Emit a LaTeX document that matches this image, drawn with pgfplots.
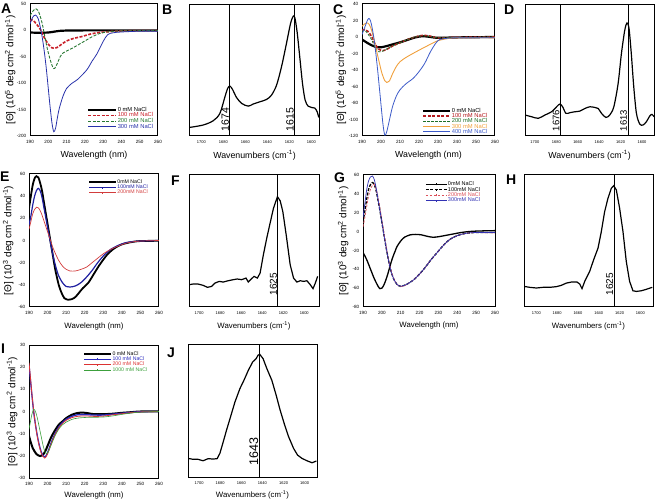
\documentclass[border=0pt]{standalone}
\usepackage{pgfplots}
\pgfplotsset{compat=1.18}
\usepackage{fontspec}
\setmainfont{Liberation Sans}
\definecolor{aRed}{RGB}{200,30,40}
\definecolor{aGreen}{RGB}{40,120,50}
\definecolor{aBlue}{RGB}{40,50,170}
\definecolor{cRed}{RGB}{180,25,30}
\definecolor{cGreen}{RGB}{30,110,40}
\definecolor{cOrange}{RGB}{240,160,60}
\definecolor{cBlue}{RGB}{60,90,200}
\definecolor{eBlue}{RGB}{30,30,160}
\definecolor{eRed}{RGB}{210,60,60}
\definecolor{gRed}{RGB}{220,80,90}
\definecolor{gBlue}{RGB}{50,50,180}
\definecolor{iBlue}{RGB}{40,40,190}
\definecolor{iRed}{RGB}{220,50,50}
\definecolor{iGreen}{RGB}{60,160,60}
\newcommand{\fs}[1]{\fontsize{#1}{#1}\selectfont}
\pgfplotsset{
  base/.style={scale only axis, axis line style={line width=1pt}, major tick length=0pt,
    /pgf/number format/assume math mode=true, /pgf/number format/1000 sep={},
    xticklabel style={yshift=-1.2pt}, yticklabel style={xshift=-0.3pt}},
  cd/.style={base, xmin=190, xmax=260, xtick={190,200,...,260},
    tick label style={font=\fs{4.6}}, xlabel={Wavelength (nm)}},
  ir/.style={base, x dir=reverse, ymin=0, ymax=1, ytick=\empty, xtick={1600,1620,...,1700},
    tick label style={font=\fs{4}}, xlabel={Wavenumbers (cm\textsuperscript{-1})}},
  leg/.style={legend cell align={left},
    legend image code/.code={\draw[##1] (0pt,0pt) -- (#1,0pt);},
    legend style={draw=none, fill=none, inner sep=0pt, row sep=-0.8pt, nodes={inner sep=0.4pt}}},
  legm/.style={legend cell align={left},
    legend image code/.code={\draw[##1] (0pt,0pt) -- (#1,0pt); \draw[##1,solid,line width=0.4pt] (0.5*#1,-1pt) -- (0.5*#1,1pt);},
    legend style={draw=none, fill=none, inner sep=0pt, row sep=-0.8pt, nodes={inner sep=0.4pt}}},
}
\begin{document}
\begin{tikzpicture}
\path[use as bounding box] (0pt,0pt) rectangle (656pt,-502pt);
% ---------------- A ----------------
\begin{axis}[cd, at={(30pt,-4pt)}, anchor=north west, width=128pt, height=132pt,
  ymin=-200, ymax=50, ytick={-200,-150,...,50},
  xlabel style={font=\fs{8.8}, at={(axis description cs:0.5,-0.145)}, anchor=center},
  ylabel={[Θ] (10\textsuperscript{5} deg cm\textsuperscript{2} dmol\textsuperscript{-1})},
  ylabel style={font=\fs{10}, at={(axis description cs:-0.155,0.5)}, anchor=center},
  leg=28pt, legend style={at={(0.445,0.225)}, anchor=north west, font=\fs{5.8}}]
\addplot[black, line width=2.2pt, smooth] coordinates {(190,-4) (195,-4.5) (200,-4) (203,-2.5) (206,-1) (210,-0.3) (220,0) (260,0)};
\addlegendentry{0 mM NaCl}
\addplot[aRed, line width=1.6pt, dash pattern=on 3pt off 1.5pt, smooth] coordinates {(190,18) (191,20) (192,18) (194,10) (196,0) (198,-15) (200,-26) (202,-33) (203.5,-34) (205,-32) (207,-27) (210,-20) (214,-15) (218,-12) (223,-7) (228,-4) (235,-2) (240,-1) (250,-0.5) (260,-0.5)};
\addlegendentry{\textcolor{aRed}{100 mM NaCl}}
\addplot[aGreen, line width=0.9pt, dash pattern=on 3pt off 1.5pt, smooth] coordinates {(190,28) (191.5,36) (193,41) (194.5,37) (196,22) (197,8) (198,-10) (199.5,-35) (201,-55) (202.5,-70) (203.5,-72) (205,-62) (206.5,-50) (208,-43) (210,-39) (213,-34) (216,-28) (220,-20) (224,-12) (228,-6) (232,-3) (236,-1.5) (240,-1) (250,-0.5) (260,-0.5)};
\addlegendentry{\textcolor{aGreen}{200 mM NaCl}}
\addplot[aBlue, line width=0.8pt, smooth] coordinates {(190,12) (191.5,25) (193,29) (194.5,22) (196,0) (197,-20) (198,-45) (199,-75) (200,-110) (201,-145) (202,-175) (203,-192) (204,-185) (205,-165) (206,-148) (208,-125) (210,-110) (213,-100) (216,-93) (221,-75) (224,-58) (226.5,-45) (230,-21) (232.5,-8) (235.5,-4.5) (240,-3) (250,-1.5) (260,-1.5)};
\addlegendentry{\textcolor{aBlue}{300 mM NaCl}}
\end{axis}
% ---------------- B ----------------
\begin{axis}[ir, at={(190pt,-5pt)}, anchor=north west, width=129pt, height=131pt, xmin=1593, xmax=1710.3,
  xlabel style={font=\fs{8.8}, at={(axis description cs:0.5,-0.145)}, anchor=center}]
\addplot[black, line width=1.2pt, smooth] coordinates {(1710.3,0.066) (1698.2,0.084) (1689.1,0.117) (1683.1,0.173) (1678.5,0.30) (1676.1,0.363) (1674,0.381) (1671.6,0.355) (1668,0.294) (1663.4,0.249) (1657.4,0.228) (1652.8,0.244) (1646.8,0.261) (1640.7,0.279) (1636.2,0.312) (1631.6,0.388) (1627.1,0.528) (1622.6,0.706) (1618.9,0.858) (1616.5,0.914) (1615,0.904) (1612.9,0.794) (1610.5,0.604) (1608,0.401) (1605.6,0.274) (1602.9,0.228) (1599.9,0.218) (1596.8,0.213) (1594.7,0.185) (1593.2,0.142)};
\addplot[black, line width=1pt] coordinates {(1674,0) (1674,1)};
\addplot[black, line width=1pt] coordinates {(1615,0) (1615,1)};
\node[rotate=90, anchor=south west, font=\fs{10.5}, inner sep=0.8pt] at (axis cs:1674,0.03) {1674};
\node[rotate=90, anchor=south west, font=\fs{10.5}, inner sep=0.8pt] at (axis cs:1615,0.03) {1615};
\end{axis}
% ---------------- C ----------------
\begin{axis}[cd, at={(362pt,-4pt)}, anchor=north west, width=133pt, height=132pt,
  ymin=-120, ymax=40, ytick={-120,-100,...,40},
  xlabel style={font=\fs{8.8}, at={(axis description cs:0.5,-0.145)}, anchor=center},
  ylabel={[Θ] (10\textsuperscript{5} deg cm\textsuperscript{2} dmol\textsuperscript{-1})},
  ylabel style={font=\fs{10}, at={(axis description cs:-0.158,0.5)}, anchor=center},
  leg=27pt, legend style={at={(0.451,0.215)}, anchor=north west, font=\fs{5.8}, row sep=-1.3pt}]
\addplot[black, line width=2.2pt, smooth] coordinates {(190,-3) (192,-6) (195,-10) (198,-12.5) (200,-12.5) (203,-11) (206,-9) (210,-6.5) (214,-3.5) (218,-0.5) (222,1) (226,0) (230,-1) (240,-0.5) (260,0)};
\addlegendentry{0 mM NaCl}
\addplot[cRed, line width=1.6pt, dash pattern=on 3pt off 1.5pt, smooth] coordinates {(190,8) (191.5,9) (193,7) (195,1) (197,-9) (199,-15) (201,-16.5) (203,-15) (206,-11) (210,-7) (214,-3) (218,0) (222,2) (226,1) (230,-1) (240,-0.5) (260,0)};
\addlegendentry{\textcolor{cRed}{100 mM NaCl}}
\addplot[cGreen, line width=0.8pt, dash pattern=on 2.5pt off 1.5pt, smooth] coordinates {(190,7) (191.5,8) (193,4) (195,-3) (197,-13) (199,-18) (201,-17) (203,-14.5) (206,-11) (210,-7) (214,-3) (218,0) (222,1.5) (226,0.5) (230,-1) (240,-0.5) (260,0)};
\addlegendentry{\textcolor{cGreen}{200 mM NaCl}}
\addplot[cOrange, line width=0.9pt, smooth] coordinates {(190,13) (191.5,16) (193,17) (194.5,12) (196,0) (197.5,-15) (199,-30) (200.5,-44) (202,-53) (203,-55) (204.5,-53) (206,-45) (208,-36) (210,-30) (213,-25) (216,-21) (220,-16) (225,-10) (230,-4.5) (235,-2) (240,-1) (260,-1)};
\addlegendentry{\textcolor{cOrange}{300 mM NaCl}}
\addplot[cBlue, line width=0.8pt, smooth] coordinates {(190,3) (191.5,12) (193,21) (194,22) (195,15) (196.5,-5) (198,-35) (199.5,-70) (201,-105) (202,-119) (203,-115) (204.5,-100) (206,-85) (208,-72) (210,-64) (213,-57) (217,-50) (220,-42) (223,-32) (226,-18) (229,-7) (231,-3) (235,-1.5) (240,-1) (260,-1)};
\addlegendentry{\textcolor{cBlue}{400 mM NaCl}}
\end{axis}
% ---------------- D ----------------
\begin{axis}[ir, at={(525pt,-5pt)}, anchor=north west, width=129pt, height=131pt, xmin=1588.8, xmax=1709.2,
  xlabel style={font=\fs{8.8}, at={(axis description cs:0.5,-0.145)}, anchor=center}]
\addplot[black, line width=1.2pt, smooth] coordinates {(1709.2,0.16) (1703,0.147) (1696.8,0.135) (1690.6,0.16) (1684.4,0.185) (1679.7,0.223) (1676.6,0.244) (1674.1,0.223) (1671,0.173) (1667.3,0.178) (1662.7,0.185) (1658,0.19) (1653.3,0.21) (1648.7,0.223) (1644,0.218) (1640.9,0.21) (1637.8,0.173) (1633.8,0.142) (1630.1,0.16) (1626.3,0.223) (1622.3,0.40) (1619.2,0.63) (1616.1,0.807) (1614,0.863) (1612.1,0.82) (1610,0.63) (1607.7,0.376) (1605.2,0.173) (1602.1,0.091) (1599,0.084) (1595.9,0.109) (1592.8,0.152) (1590.7,0.165) (1588.8,0.147)};
\addplot[black, line width=1pt] coordinates {(1676,0) (1676,1)};
\addplot[black, line width=1pt] coordinates {(1613,0) (1613,1)};
\node[rotate=90, anchor=south west, font=\fs{9.5}, inner sep=0.8pt] at (axis cs:1676,0.03) {1676};
\node[rotate=90, anchor=south west, font=\fs{9.5}, inner sep=0.8pt] at (axis cs:1613,0.03) {1613};
\end{axis}
% ---------------- E ----------------
\begin{axis}[cd, at={(29pt,-174pt)}, anchor=north west, width=130pt, height=133pt,
  ymin=-60, ymax=60, ytick={-60,-40,...,60},
  xlabel style={font=\fs{7.8}, at={(axis description cs:0.5,-0.143)}, anchor=center},
  ylabel={[Θ] (10\textsuperscript{3} deg cm\textsuperscript{2} dmol\textsuperscript{-1})},
  ylabel style={font=\fs{10}, at={(axis description cs:-0.16,0.5)}, anchor=center},
  legm=27pt, legend style={at={(0.454,0.962)}, anchor=north west, font=\fs{5.2}}]
\addplot[black, line width=1.8pt, smooth] coordinates {(190,29) (191,40) (192,50) (193,56) (194,58) (195,57) (196,52) (197,45) (198,35) (199,25) (200,15) (201,5) (202,-5) (203,-15) (204,-25) (205,-33) (206,-40) (207,-45) (208,-49) (209,-52) (211,-53.5) (213,-53) (215,-51) (217,-47) (219,-43) (222,-38) (225,-30) (228,-22) (232,-13) (236,-7) (240,-3.5) (245,-1.5) (250,-0.5) (260,-0.3)};
\addlegendentry{0mM NaCl}
\addplot[eBlue, line width=1.2pt, smooth] coordinates {(190,14) (191,22) (192,32) (193,40) (194,45) (195,47) (196,45) (197,39) (198,30) (199,21) (200,12) (201,3) (202,-6) (203,-14) (204,-21) (205,-27) (206,-32) (208,-38) (210,-41.5) (212,-42) (215,-41) (218,-38) (221,-33) (224,-27) (227,-20) (230,-14) (234,-8) (238,-4.5) (242,-2) (246,-1) (250,-0.5) (260,0)};
\addlegendentry{\textcolor{eBlue}{100mM NaCl}}
\addplot[eRed, line width=0.7pt, smooth] coordinates {(190,10) (191,17) (192,24) (193,28) (194,30) (195,29.5) (196,27) (197,23) (198,18) (199,13) (200,8) (201,3) (202,-2) (203,-7) (204,-11) (206,-18) (208,-23) (210,-26) (212,-27.5) (215,-27.5) (218,-26) (221,-24) (224,-20) (227,-16) (230,-12) (234,-8) (238,-5) (242,-2.5) (246,-1.2) (250,-0.5) (260,0)};
\addlegendentry{\textcolor{eRed}{200mM NaCl}}
\end{axis}
% ---------------- F ----------------
\begin{axis}[ir, at={(189pt,-175pt)}, anchor=north west, width=130pt, height=132pt, xmin=1586, xmax=1709.6,
  xlabel style={font=\fs{7.8}, at={(axis description cs:0.5,-0.143)}, anchor=center}]
\addplot[black, line width=1.2pt] coordinates {(1709.6,0.169) (1705.7,0.174) (1701,0.174) (1696.2,0.164) (1692,0.149) (1688.2,0.156) (1685,0.181) (1680.9,0.194) (1677.1,0.189) (1672.3,0.199) (1667.5,0.207) (1663.7,0.212) (1659.6,0.207) (1655.4,0.219) (1653.2,0.189) (1651,0.207) (1647.8,0.232) (1644.6,0.219) (1642,0.257) (1638.9,0.395) (1635.7,0.521) (1632.5,0.635) (1629.3,0.748) (1625.5,0.836) (1622.9,0.804) (1620.4,0.723) (1617.2,0.547) (1613.4,0.32) (1610.2,0.219) (1607,0.189) (1603.8,0.199) (1600.6,0.194) (1597.5,0.199) (1594.3,0.169) (1591.7,0.139) (1589.5,0.181) (1587.3,0.232)};
\addplot[black, line width=1pt] coordinates {(1625,0) (1625,1)};
\node[rotate=90, anchor=south west, font=\fs{10}, inner sep=0.8pt] at (axis cs:1625,0.08) {1625};
\end{axis}
% ---------------- G ----------------
\begin{axis}[cd, at={(363pt,-175pt)}, anchor=north west, width=132pt, height=132pt,
  ymin=-80, ymax=60, ytick={-80,-60,...,60},
  xlabel style={font=\fs{7.8}, at={(axis description cs:0.5,-0.143)}, anchor=center},
  ylabel={[Θ] (10\textsuperscript{3} deg cm\textsuperscript{2} dmol\textsuperscript{-1})},
  ylabel style={font=\fs{10}, at={(axis description cs:-0.15,0.5)}, anchor=center},
  legm=21pt, legend style={at={(0.47,0.955)}, anchor=north west, font=\fs{5.5}}]
\addplot[black, line width=1.3pt, smooth] coordinates {(190,-22) (192,-30) (194,-40) (196,-50) (198,-58) (199,-60.5) (200,-60) (201,-57) (202,-52) (203,-46) (204,-39) (205,-32) (206,-26) (207,-21) (208,-16) (210,-10) (212,-6) (215,-3.5) (218,-3) (221,-3.5) (224,-5) (227,-6) (230,-5.5) (234,-4) (238,-2.5) (242,-1) (246,0) (250,0.5) (255,0.8) (260,1)};
\addlegendentry{0mM NaCl}
\addplot[black, line width=1.3pt, dash pattern=on 3pt off 1.5pt, smooth] coordinates {(190,10) (191,22) (192,35) (193,45) (194,50) (195,52) (196,50) (197,43) (198,33) (199,22) (200,10) (201,-2) (202,-14) (203,-25) (204,-35) (205,-43) (206,-49) (207,-53) (208,-56) (209,-57.5) (210,-58) (212,-57) (214,-55) (217,-51) (220,-45) (223,-38) (226,-30) (229,-23) (232,-16) (235,-10) (238,-6) (242,-3) (246,-1.5) (250,-1) (260,-1)};
\addlegendentry{100mM NaCl}
\addplot[gRed, line width=0.7pt, dash pattern=on 2.5pt off 1.5pt, smooth] coordinates {(190,5) (191,15) (192,27) (193,38) (194,45) (195,49) (196,50) (197,45) (198,36) (199,25) (200,12) (201,0) (202,-12) (203,-24) (204,-34) (205,-42) (206,-48) (207,-53) (208,-56) (209,-57.5) (210,-58.5) (212,-57.5) (214,-55) (217,-51) (220,-45) (223,-38) (226,-30) (229,-23) (232,-16) (235,-10) (238,-6) (242,-3) (246,-1.5) (250,-1) (260,-1.5)};
\addlegendentry{\textcolor{gRed}{200mM NaCl}}
\addplot[gBlue, line width=0.7pt, smooth] coordinates {(190,15) (191,30) (192,45) (193,54) (194,58) (195,59) (196,55) (197,46) (198,34) (199,22) (200,10) (201,-2) (202,-14) (203,-25) (204,-35) (205,-43) (206,-49) (207,-53) (208,-56) (209,-57.5) (210,-58) (212,-57) (214,-55) (217,-51) (220,-45) (223,-38) (226,-30) (229,-23) (232,-16) (235,-10) (238,-6) (242,-3) (246,-1.5) (250,-1) (260,-1)};
\addlegendentry{\textcolor{gBlue}{300mM NaCl}}
\end{axis}
% ---------------- H ----------------
\begin{axis}[ir, at={(524pt,-175pt)}, anchor=north west, width=129pt, height=132pt, xmin=1587.8, xmax=1711.9,
  xlabel style={font=\fs{7.8}, at={(axis description cs:0.5,-0.143)}, anchor=center}]
\addplot[black, line width=1.2pt] coordinates {(1711.9,0.156) (1706.4,0.149) (1700,0.144) (1693.6,0.149) (1687.2,0.149) (1680.8,0.154) (1676,0.164) (1671.2,0.181) (1666.3,0.189) (1660.9,0.189) (1658.3,0.174) (1656.1,0.139) (1653.5,0.194) (1648.7,0.27) (1644.9,0.358) (1640.7,0.446) (1637.5,0.572) (1634.3,0.723) (1631.1,0.824) (1627.9,0.899) (1625.6,0.919) (1623.1,0.887) (1619.9,0.748) (1616.7,0.572) (1613.5,0.345) (1610.3,0.194) (1607.1,0.123) (1603.8,0.118) (1599,0.123) (1594.2,0.134) (1588.5,0.149)};
\addplot[black, line width=1pt] coordinates {(1625,0) (1625,1)};
\node[rotate=90, anchor=south west, font=\fs{10}, inner sep=0.8pt] at (axis cs:1625,0.08) {1625};
\end{axis}
% ---------------- I ----------------
\begin{axis}[cd, at={(29pt,-345pt)}, anchor=north west, width=130pt, height=133pt,
  ymin=-30, ymax=30, ytick={-30,-20,...,30},
  xlabel style={font=\fs{7.8}, at={(axis description cs:0.5,-0.135)}, anchor=center},
  ylabel={[Θ] (10\textsuperscript{3} deg cm\textsuperscript{2} dmol\textsuperscript{-1})},
  ylabel style={font=\fs{10}, at={(axis description cs:-0.13,0.5)}, anchor=center},
  legm=27pt, legend style={at={(0.415,0.955)}, anchor=north west, font=\fs{5.2}}]
\addplot[black, line width=2pt, smooth] coordinates {(190,-11) (191,-14) (192,-16.5) (193,-18) (194,-19.2) (195,-19.8) (196,-20.1) (197,-19.8) (198,-19) (199,-17.5) (200,-15.5) (202,-11.5) (204,-8.5) (206,-6) (208,-4.5) (210,-3) (213,-1.5) (216,-0.7) (219,-0.5) (222,-0.8) (225,-1.2) (230,-1.2) (235,-1) (240,-0.6) (245,-0.3) (250,0) (260,0)};
\addlegendentry{0 mM NaCl}
\addplot[iBlue, line width=1.3pt, smooth] coordinates {(190,21) (190.7,15) (191.5,8) (192.5,0) (193.5,-6) (194.5,-11) (195.5,-15) (196.5,-18) (197.5,-20) (198.5,-20.5) (199.5,-19.5) (200.5,-17.5) (202,-14) (204,-10) (206,-7) (208,-5) (210,-3.5) (213,-2.2) (216,-1.5) (220,-1.4) (225,-1.6) (230,-1.6) (235,-1.2) (240,-0.8) (245,-0.4) (250,-0.1) (260,0)};
\addlegendentry{\textcolor{iBlue}{100 mM NaCl}}
\addplot[iRed, line width=0.8pt, smooth] coordinates {(190,22) (190.7,16) (191.5,8.5) (192.5,0.5) (193.5,-6) (194.5,-11.5) (195.5,-15.5) (196.5,-18.5) (197.5,-20.3) (198.5,-21) (199.5,-20) (200.5,-18) (202,-14.5) (204,-10.5) (206,-7.5) (208,-5.5) (210,-4) (213,-2.8) (216,-2.2) (220,-2) (225,-2.2) (230,-2.1) (235,-1.5) (240,-1) (245,-0.5) (250,-0.2) (260,0)};
\addlegendentry{\textcolor{iRed}{200 mM NaCl}}
\addplot[iGreen, line width=0.6pt, smooth] coordinates {(190,-8) (190.7,-5) (191.5,-1.5) (192.5,1) (193.5,0) (194.5,-3) (195.5,-7) (196.5,-11) (197.5,-15) (198.5,-18) (199.5,-19) (200.5,-18) (202,-15) (204,-11) (206,-8) (208,-6) (210,-4.8) (213,-3.6) (216,-3) (220,-2.7) (225,-2.6) (230,-2.5) (235,-2) (240,-1.3) (245,-0.7) (250,-0.3) (260,0)};
\addlegendentry{\textcolor{iGreen}{1000 mM NaCl}}
\end{axis}
% ---------------- J ----------------
\begin{axis}[ir, at={(188pt,-345pt)}, anchor=north west, width=129pt, height=132pt, xmin=1588.3, xmax=1710.5,
  xlabel style={font=\fs{7.8}, at={(axis description cs:0.5,-0.135)}, anchor=center}]
\addplot[black, line width=1.2pt] coordinates {(1710.5,0.141) (1705.7,0.134) (1701,0.134) (1696.2,0.123) (1691.4,0.139) (1686.7,0.136) (1682.9,0.139) (1680.3,0.179) (1677.1,0.267) (1674,0.355) (1670.2,0.456) (1666,0.569) (1661.3,0.67) (1657.5,0.733) (1653.3,0.809) (1649.2,0.872) (1645.9,0.897) (1644.2,0.922) (1642.5,0.929) (1639.4,0.897) (1635.8,0.821) (1631.1,0.733) (1627,0.62) (1623.2,0.506) (1619.4,0.406) (1615.2,0.305) (1610.5,0.217) (1606.7,0.166) (1602.5,0.141) (1597.8,0.123) (1593,0.108) (1588.9,0.121)};
\addplot[black, line width=1pt] coordinates {(1643,0) (1643,1)};
\node[rotate=90, anchor=south west, font=\fs{12.5}, inner sep=0.8pt] at (axis cs:1643,0.08) {1643};
\end{axis}
% ---------------- panel letters ----------------
\foreach \L/\X/\Y in {A/1/-4, B/162/-5, C/333/-5, D/504/-5, E/0/-172, F/171/-176, G/334/-173, H/506/-175, I/1/-344, J/167/-348}
  \node[anchor=north west, inner sep=0pt, font=\bfseries\fs{14}] at (\X pt,\Y pt) {\L};
\end{tikzpicture}
\end{document}
